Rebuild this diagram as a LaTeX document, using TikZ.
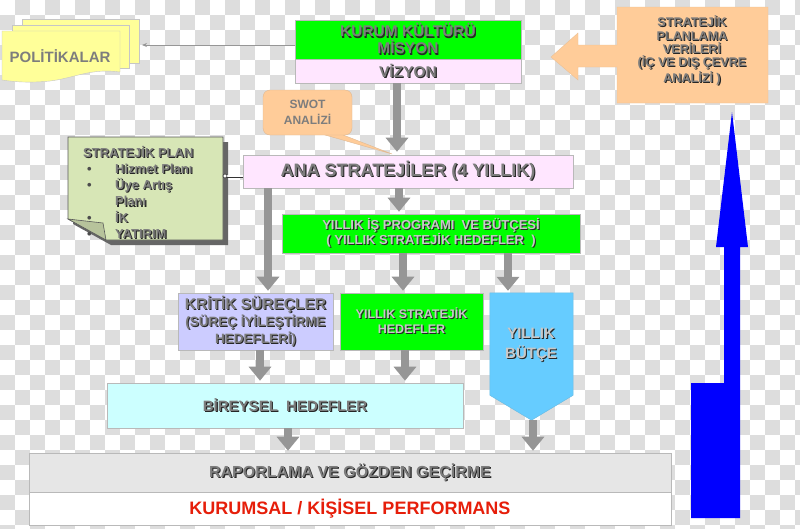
\documentclass[tikz,border=0pt]{standalone}
\usepackage{fontspec}
\setmainfont{Liberation Sans}
\usetikzlibrary{arrows.meta,calc}
\definecolor{chk}{RGB}{221,221,221}
\definecolor{agray}{RGB}{150,150,150}
\definecolor{tgray}{RGB}{125,125,125}
\definecolor{tlight}{RGB}{200,200,200}
\definecolor{vgreen}{RGB}{0,255,0}
\definecolor{lpink}{RGB}{255,230,255}
\definecolor{lav}{RGB}{204,204,255}
\definecolor{lcyan}{RGB}{204,255,255}
\definecolor{lgrayb}{RGB}{230,230,230}
\definecolor{notegreen}{RGB}{215,230,182}
\definecolor{lyellow}{RGB}{255,255,153}
\definecolor{peach}{RGB}{255,204,153}
\definecolor{skyb}{RGB}{102,204,255}
\definecolor{perfred}{RGB}{230,30,10}
\newcommand\sh[2][tgray]{\rlap{\kern1.1pt\raisebox{-1.1pt}{\color{black!85}#2}}{\color{#1}#2}}
\begin{document}
\begin{tikzpicture}[x=1pt,y=-1pt,
 box/.style={draw=gray!55,line width=0.6pt,inner sep=0pt,align=center},
 garrow/.style={draw=agray,line width=8pt,-{Triangle[width=22pt,length=14pt]}}]
\useasboundingbox (0,0) rectangle (800,528);
% transparency checkerboard
\fill[white] (0,0) rectangle (800,528);
\foreach \i in {0,...,53}{\foreach \j in {0,...,35}{\pgfmathtruncatemacro\s{\i+\j}\ifodd\s\fill[chk] (\i*15,\j*15) rectangle ++(15,15);\fi}}
% POLITIKALAR documents
\filldraw[fill=lyellow,draw=gray!45] (22,19) rectangle (139,63);
\filldraw[fill=lyellow,draw=gray!45] (12,25) rectangle (129,68);
\filldraw[fill=lyellow,draw=gray!45] (2,31) -- (120,31) -- (120,72) .. controls (90,68) and (75,78) .. (50,81) .. controls (30,83) and (15,82) .. (2,80) -- cycle;
\node[font=\bfseries\fontsize{15}{16}\selectfont, text=tgray] (pol) at (60,56) {POLİTİKALAR};
\coordinate (poltip) at (142,45);
% KURUM / VIZYON
\node[box, fill=vgreen, minimum width=226, minimum height=39, font=\bfseries\fontsize{15.5}{17}\selectfont] (kurum) at (408,39.5) {\sh{KURUM KÜLTÜRÜ}\\\sh{MİSYON}};
\node[box, fill=lpink, minimum width=226, minimum height=24, font=\bfseries\fontsize{15.5}{16}\selectfont] (vizyon) at (408,71) {\sh{VİZYON}};
\draw[agray, line width=0.8pt, -{Stealth[length=5pt,width=4pt]}] ([yshift=-5.5pt]kurum.west) -- (poltip);
% STRATEJIK PLANLAMA VERILERI (left arrow callout)
\filldraw[fill=peach, draw=peach!85!gray] (617,7) -- (768,7) -- (768,103) -- (617,103) -- (617,67) -- (578,67) -- (578,80) -- (551,57) -- (578,33) -- (578,45) -- (617,45) -- cycle;
\node[font=\bfseries\fontsize{12.6}{13.4}\selectfont, align=center] (spv) at (692,51) {\sh{STRATEJİK}\\\sh{PLANLAMA}\\\sh{VERİLERİ}\\\sh{(İÇ VE DIŞ ÇEVRE}\\\sh{ANALİZİ )}};
% blue arrow
\fill[blue] (691,518) -- (740,518) -- (740,247) -- (748,247) -- (732,112) -- (716,247) -- (724,247) -- (724,383) -- (691,383) -- cycle;
% SWOT callout
\filldraw[fill=peach, draw=peach!75!gray, line width=0.4pt] (318,133) -- (392,154) -- (338,133) -- cycle;
\node[draw=peach!75!gray, fill=peach, rounded corners=7pt, minimum width=89, minimum height=45, font=\bfseries\fontsize{12}{16}\selectfont, text=tgray, align=center] (swot) at (307.5,112.5) {SWOT\\ANALİZİ};
% STRATEJIK PLAN note
\fill[black!60] (73,142) -- (228,142) -- (228,245) -- (111,245) -- (73,224) -- cycle;
\filldraw[fill=notegreen, draw=gray!70!black, line width=0.6pt] (68,137) -- (223,137) -- (223,240) -- (106,240) -- (68,219) -- cycle;
\node[anchor=north west, inner sep=0pt, align=left, font=\bfseries\fontsize{13}{16.2}\selectfont] (plan) at (83,146) {\sh{STRATEJİK PLAN}\\
\hspace*{4pt}\makebox[28pt][l]{\color{black!70}•}\sh{Hizmet Planı}\\
\hspace*{4pt}\makebox[28pt][l]{\color{black!70}•}\sh{Üye Artış}\\
\hspace*{32pt}\sh{Planı}\\
\hspace*{4pt}\makebox[28pt][l]{\color{black!70}•}\sh{İK}\\
\hspace*{4pt}\makebox[28pt][l]{\color{black!70}•}\sh{YATIRIM}};
\filldraw[fill=notegreen!85!black, draw=gray!70!black, line width=0.6pt] (68,219) -- (103,223) -- (106,240) -- cycle;
% ANA STRATEJILER
\node[box, fill=lpink, minimum width=330, minimum height=33, font=\bfseries\fontsize{18}{19}\selectfont] (ana) at (408,171.5) {\sh{ANA STRATEJİLER (4 YILLIK)}};
\coordinate (planc) at (225,176);
\draw[draw=black!80, line width=0.7pt, double=white, double distance=1.6pt] (planc) -- ([yshift=-4.5pt]ana.west);
\draw[draw=black!80, fill=white, line width=0.6pt] (planc) circle (2pt);
% YILLIK IS PROGRAMI
\node[box, fill=vgreen, minimum width=298, minimum height=39, font=\bfseries\fontsize{13}{15}\selectfont] (yis) at (431,233.5) {\sh[tlight]{YILLIK İŞ PROGRAMI \ VE BÜTÇESİ}\\\sh[tlight]{( YILLIK STRATEJİK HEDEFLER \ )}};
% third row
\node[box, fill=lav, minimum width=155, minimum height=57, font=\bfseries\fontsize{13.5}{17}\selectfont] (krit) at (255.5,321.5) {{\fontsize{15.5}{17}\selectfont\sh{KRİTİK SÜREÇLER}}\\\sh{(SÜREÇ İYİLEŞTİRME}\\\sh{HEDEFLERİ)}};
\node[box, fill=vgreen, minimum width=143, minimum height=57, font=\bfseries\fontsize{12.5}{15}\selectfont] (ystr) at (411.5,321.5) {\sh[tlight]{YILLIK STRATEJİK}\\\sh[tlight]{HEDEFLER}};
\node[minimum width=83, minimum height=127, inner sep=0pt] (butce) at (531.5,356.5) {};
\filldraw[fill=skyb, draw=skyb!80!gray, line width=0.5pt] (butce.north west) -- (butce.north east) -- ([yshift=25pt]butce.south east) -- (butce.south) -- ([yshift=25pt]butce.south west) -- cycle;
\node[font=\bfseries\fontsize{15}{20}\selectfont, align=center] (butcetxt) at (531,345) {\sh[tlight]{YILLIK}\\\sh[tlight]{BÜTÇE}};
% BIREYSEL
\node[box, fill=lcyan, minimum width=356, minimum height=45, font=\bfseries\fontsize{15}{16}\selectfont] (bir) at (285,405.5) {\sh{BİREYSEL \ HEDEFLER}};
% bottom bars
\node[box, fill=lgrayb, minimum width=642, minimum height=39, font=\bfseries\fontsize{16}{17}\selectfont] (rapor) at (350,472.5) {\sh{RAPORLAMA VE GÖZDEN GEÇİRME}};
\node[box, fill=white, minimum width=642, minimum height=33, font=\bfseries\fontsize{18}{19}\selectfont, text=perfred] (perf) at (350,508.5) {KURUMSAL / KİŞİSEL PERFORMANS};
% gray flow arrows
\draw[garrow, shorten >=3pt] ([xshift=-11pt]vizyon.south) -- ([xshift=-11pt]ana.north);
\draw[garrow, shorten >=2pt] ([xshift=-9pt]ana.south) -- ([xshift=-32pt]yis.north);
\draw[garrow, shorten >=2pt] ([xshift=-140pt]ana.south) -- ([xshift=12.5pt]krit.north);
\draw[garrow, shorten >=2pt] ([xshift=-28pt]yis.south) -- ([xshift=-8.5pt]ystr.north);
\draw[garrow, shorten >=2pt] ([xshift=77pt]yis.south) -- ([xshift=-23.5pt]butce.north);
\draw[garrow, shorten >=2pt] ([xshift=4.5pt]krit.south) -- ([xshift=-25pt]bir.north);
\draw[garrow, shorten >=2pt] ([xshift=-6.5pt]ystr.south) -- ([xshift=120pt]bir.north);
\draw[garrow, shorten >=2pt] ([xshift=3pt]bir.south) -- ([xshift=-62pt]rapor.north);
\draw[garrow, shorten >=2pt] ([xshift=1.5pt]butce.south) -- ([xshift=183pt]rapor.north);
\end{tikzpicture}
\end{document}
